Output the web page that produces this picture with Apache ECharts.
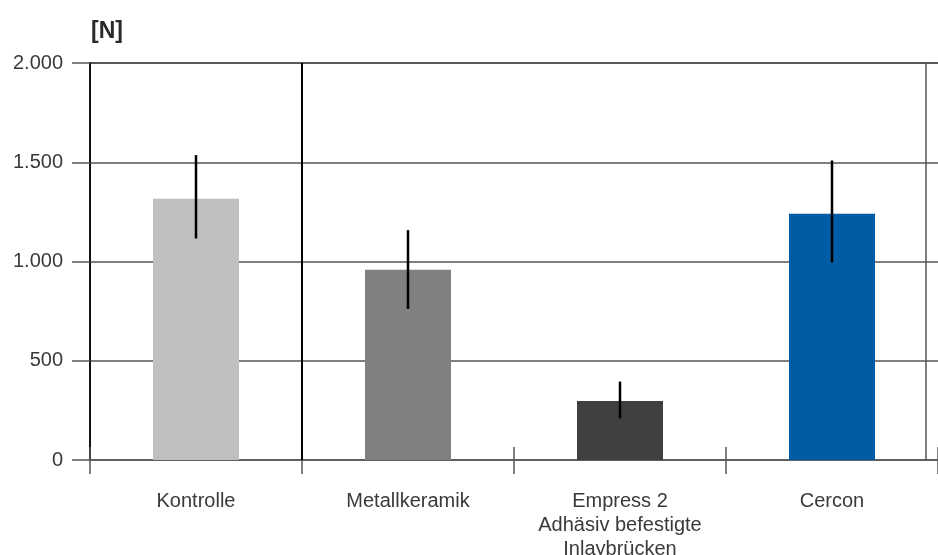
<!DOCTYPE html>
<html>
<head>
<meta charset="utf-8">
<script src="https://cdn.jsdelivr.net/npm/echarts@6/dist/echarts.min.js"></script>
<style>html,body{margin:0;padding:0;background:#fff;overflow:hidden}#c{width:938px;height:555px}</style>
</head>
<body>
<div id="c"></div>
<script>
const categories = ['Kontrolle', 'Metallkeramik', 'Empress 2\nAdhäsiv befestigte\nInlaybrücken', 'Cercon'];
const meanValues = [1316, 958, 297, 1240];
const errorLow = [1116, 761, 210, 995];
const errorHigh = [1536, 1158, 395, 1509];
const barColors = ['#bfbfbf', '#808080', '#404040', '#005ca5'];
const yTicks = [0, 500, 1000, 1500, 2000];
const unitLabel = '[N]';

const fmt = v => String(v).replace(/\B(?=(\d{3})+(?!\d))/g, '.');
const FONT = '"Liberation Sans", Arial, sans-serif';

const chart = echarts.init(document.getElementById('c'), null, {renderer: 'canvas'});
chart.setOption({
  animation: false,
  backgroundColor: '#fff',
  title: {
    text: unitLabel, left: 86, top: 15,
    textStyle: {fontFamily: FONT, fontSize: 23, fontWeight: 'bold', color: '#2a2a2a'}
  },
  grid: {left: 90, right: 0, top: 63, bottom: 95, containLabel: false, outerBoundsMode: 'none'},
  xAxis: [
    {
      type: 'category', data: categories, position: 'bottom',
      axisLine: {show: true, lineStyle: {color: '#555', width: 1.5}},
      axisTick: {show: true, inside: false, length: 14, interval: 0, lineStyle: {color: '#555', width: 1.5}},
      axisLabel: {interval: 0, margin: 29, fontFamily: FONT, fontSize: 20, color: '#3a3a3a', lineHeight: 24},
      splitLine: {show: false}
    },
    {
      type: 'category', data: categories, position: 'bottom',
      axisLine: {show: false},
      axisTick: {show: true, inside: true, length: 13, interval: 0, lineStyle: {color: '#555', width: 1.5}},
      axisLabel: {show: false},
      splitLine: {show: false}
    },
    {type: 'value', min: 0, max: 4, show: false, position: 'top'}
  ],
  yAxis: {
    type: 'value', min: yTicks[0], max: yTicks[yTicks.length - 1], interval: 500,
    axisLine: {show: true, lineStyle: {color: '#111', width: 2}},
    axisTick: {show: true, length: 18, lineStyle: {color: '#555', width: 1.5}},
    axisLabel: {formatter: fmt, margin: 27, fontFamily: FONT, fontSize: 20, color: '#3a3a3a'},
    splitLine: {show: true, lineStyle: {color: ['#555', '#555', '#555', '#555', '#222'], width: 1.5}}
  },
  series: [
    {
      type: 'bar', xAxisIndex: 0, barWidth: 86,
      data: meanValues.map((v, i) => ({value: v, itemStyle: {color: barColors[i]}})),
      z: 2
    },
    {
      type: 'custom', xAxisIndex: 0, z: 5,
      data: categories.map((c, i) => [i, errorLow[i], errorHigh[i]]),
      renderItem: function (params, api) {
        const x = api.value(0);
        const p1 = api.coord([x, api.value(2)]);
        const p2 = api.coord([x, api.value(1)]);
        return {type: 'line', shape: {x1: p1[0], y1: p1[1], x2: p2[0], y2: p2[1]},
          style: {stroke: '#000', lineWidth: 2.5}};
      }
    },
    {
      type: 'scatter', xAxisIndex: 2, data: [], z: 6,
      markLine: {
        silent: true, symbol: 'none', label: {show: false}, animation: false,
        data: [
          {xAxis: 1, lineStyle: {color: '#000', width: 2, type: 'solid'}},
          {xAxis: 3.943, lineStyle: {color: '#555', width: 1.5, type: 'solid'}}
        ]
      }
    }
  ]
});
</script>
</body>
</html>
